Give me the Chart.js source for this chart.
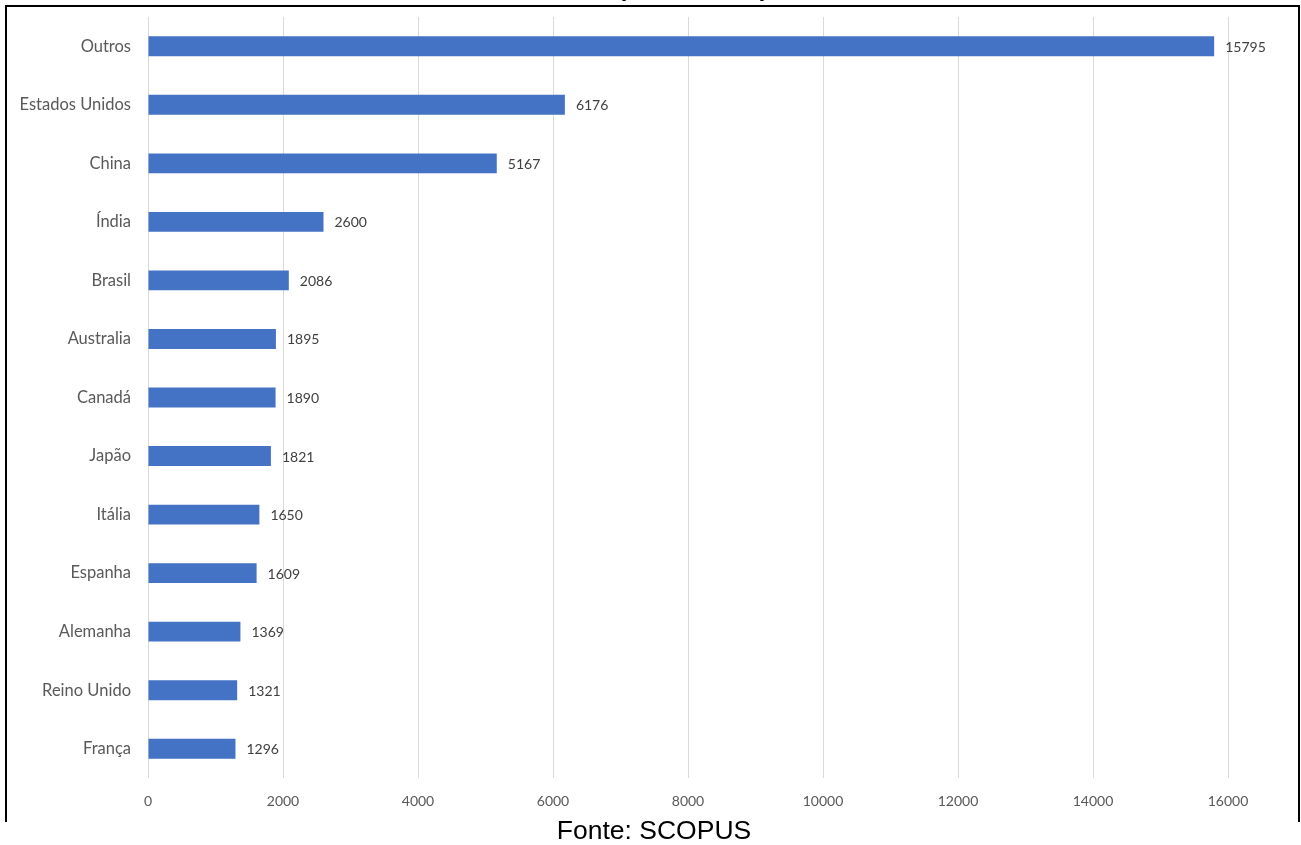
<!DOCTYPE html>
<html>
<head>
<meta charset="utf-8">
<script src="https://cdn.jsdelivr.net/npm/chart.js@4/dist/chart.umd.min.js"></script>
<style>
  body { margin: 0; background: #fff; width: 1301px; height: 845px; overflow: hidden; position: relative; }
  #wrap { position: absolute; left: 0; top: 0; width: 1301px; height: 820px; }
  #frame { position: absolute; left: 5px; top: 5px; width: 1291px; height: 815px;
           border: 2px solid #000; border-bottom: none; pointer-events: none; }
  .paren { position: absolute; top: -26.5px; font: bold 24px "Liberation Sans", Arial, sans-serif; color: #000; }
  #fonte { position: absolute; left: 0; width: 1308px; top: 815px; text-align: center;
           font: 26.5px "Liberation Sans", Arial, sans-serif; color: #000; }
</style>
</head>
<body>
<div id="wrap"><canvas id="paisesChart"></canvas></div>
<div id="frame"></div>
<span class="paren" style="left:618px">(</span>
<span class="paren" style="left:760px">)</span>
<div id="fonte">Fonte: SCOPUS</div>

<script>
// dados
const paises = ["Outros", "Estados Unidos", "China", "Índia", "Brasil", "Australia",
                "Canadá", "Japão", "Itália", "Espanha", "Alemanha", "Reino Unido", "França"];
const documentos = [15795, 6176, 5167, 2600, 2086, 1895, 1890, 1821, 1650, 1609, 1369, 1321, 1296];
const xTicks = [0, 2000, 4000, 6000, 8000, 10000, 12000, 14000, 16000];

const FONT = "Lato, 'Open Sans', sans-serif";

// rótulos de valor à direita das barras
const valueLabels = {
    id: "valueLabels",
    afterDatasetsDraw(chart) {
        const ctx = chart.ctx;
        const meta = chart.getDatasetMeta(0);
        ctx.save();
        ctx.font = "14px " + FONT;
        ctx.fillStyle = "#404040";
        ctx.textBaseline = "middle";
        ctx.textAlign = "left";
        meta.data.forEach((bar, i) => {
            ctx.fillText(documentos[i], bar.x + 11, bar.y + 1);
        });
        ctx.restore();
    }
};

new Chart(document.getElementById("paisesChart"), {
    type: "bar",
    data: {
        labels: paises,
        datasets: [{
            data: documentos,
            backgroundColor: "#4472C4",
            barPercentage: 0.34,
            categoryPercentage: 1.0
        }]
    },
    options: {
        indexAxis: "y",
        responsive: true,
        maintainAspectRatio: false,
        animation: false,
        layout: { padding: { top: 17, right: 73, left: 0, bottom: 0 } },
        plugins: {
            legend: { display: false },
            tooltip: { enabled: false }
        },
        scales: {
            x: {
                min: 0,
                max: 16000,
                afterBuildTicks: scale => { scale.ticks = xTicks.map(v => ({ value: v })); },
                afterFit: scale => { scale.height = 42; },
                grid: { color: "#d9d9d9", drawTicks: false },
                border: { display: false },
                ticks: {
                    padding: 15,
                    color: "#595959",
                    font: { family: FONT, size: 14 },
                    callback: value => String(value)
                }
            },
            y: {
                afterFit: scale => {
                    scale.width = 148;
                    scale.paddingTop = 0;
                    scale.paddingBottom = 0;
                },
                grid: { display: false, drawTicks: false },
                border: { display: false },
                ticks: {
                    padding: 17,
                    color: "#595959",
                    font: { family: FONT, size: 16.5 }
                }
            }
        }
    },
    plugins: [valueLabels]
});
</script>
</body>
</html>
